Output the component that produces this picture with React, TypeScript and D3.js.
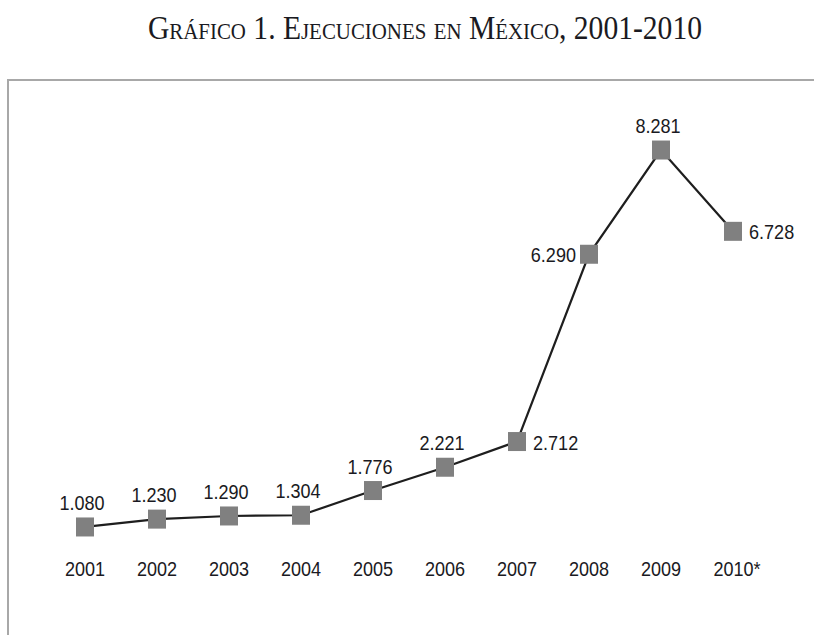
import { useEffect, useRef } from "react";
import * as d3 from "d3";

const years = ["2001", "2002", "2003", "2004", "2005", "2006", "2007", "2008", "2009", "2010*"];
const executions = [1080, 1230, 1290, 1304, 1776, 2221, 2712, 6290, 8281, 6728];
const valueLabels = ["1.080", "1.230", "1.290", "1.304", "1.776", "2.221", "2.712", "6.290", "8.281", "6.728"];
// where each value label sits relative to its marker
const labelSide = ["top", "top", "top", "top", "top", "top", "right", "left", "top", "right"];

const WIDTH = 814;
const HEIGHT = 635;
const SQUEEZE = 0.86;

export default function App() {
  const svgRef = useRef<SVGSVGElement>(null);

  useEffect(() => {
    document.body.style.margin = "0";
    if (!svgRef.current) return;
    const svg = d3.select(svgRef.current);
    svg.selectAll("*").remove();

    const x = d3.scalePoint<string>().domain(years).range([85, 733]);
    const y = d3.scaleLinear().domain([0, 9000]).range([583.5, 112.4]);

    // frame
    svg
      .append("rect")
      .attr("x", 8)
      .attr("y", 80)
      .attr("width", 900)
      .attr("height", 700)
      .attr("fill", "none")
      .attr("stroke", "#a8a8a8")
      .attr("stroke-width", 2);

    // title
    svg
      .append("text")
      .attr("x", 425)
      .attr("y", 39)
      .attr("text-anchor", "middle")
      .attr("font-family", "'Liberation Serif', 'Times New Roman', serif")
      .attr("font-size", 34)
      .attr("font-variant", "small-caps")
      .attr("fill", "#1a1a22")
      .attr("textLength", 554)
      .attr("lengthAdjust", "spacingAndGlyphs")
      .text("Gráfico 1. Ejecuciones en México, 2001-2010");

    const pts = years.map((yr, i) => ({ yr, v: executions[i], label: valueLabels[i], side: labelSide[i] }));

    const line = d3
      .line<(typeof pts)[number]>()
      .x((d) => x(d.yr)!)
      .y((d) => y(d.v));

    svg
      .append("path")
      .datum(pts)
      .attr("d", line)
      .attr("fill", "none")
      .attr("stroke", "#1e1e1e")
      .attr("stroke-width", 2.2);

    const SW = 18;
    const SH = 19;
    svg
      .append("g")
      .selectAll("rect")
      .data(pts)
      .join("rect")
      .attr("x", (d) => x(d.yr)! - SW / 2)
      .attr("y", (d) => y(d.v) - SH / 2)
      .attr("width", SW)
      .attr("height", SH)
      .attr("fill", "#808080");

    const font = "'Liberation Sans', Arial, sans-serif";

    svg
      .append("g")
      .selectAll("text")
      .data(pts)
      .join("text")
      .attr("transform", (d) => {
        const cx = x(d.yr)!;
        const cy = y(d.v);
        if (d.side === "right") return `translate(${cx + 16},${cy + 8}) scale(${SQUEEZE},1)`;
        if (d.side === "left") return `translate(${cx - 13},${cy + 8}) scale(${SQUEEZE},1)`;
        return `translate(${cx - 3},${cy - 17}) scale(${SQUEEZE},1)`;
      })
      .attr("text-anchor", (d) => (d.side === "right" ? "start" : d.side === "left" ? "end" : "middle"))
      .attr("font-family", font)
      .attr("font-size", 21)
      .attr("fill", "#1a1a22")
      .text((d) => d.label);

    // year axis labels
    svg
      .append("g")
      .selectAll("text")
      .data(years)
      .join("text")
      .attr("transform", (d) => `translate(${x(d)! + (d.endsWith("*") ? 4 : 0)},576) scale(${SQUEEZE},1)`)
      .attr("text-anchor", "middle")
      .attr("font-family", font)
      .attr("font-size", 21)
      .attr("fill", "#1a1a22")
      .text((d) => d);
  }, []);

  return <svg ref={svgRef} width={WIDTH} height={HEIGHT} style={{ display: "block" }} />;
}
